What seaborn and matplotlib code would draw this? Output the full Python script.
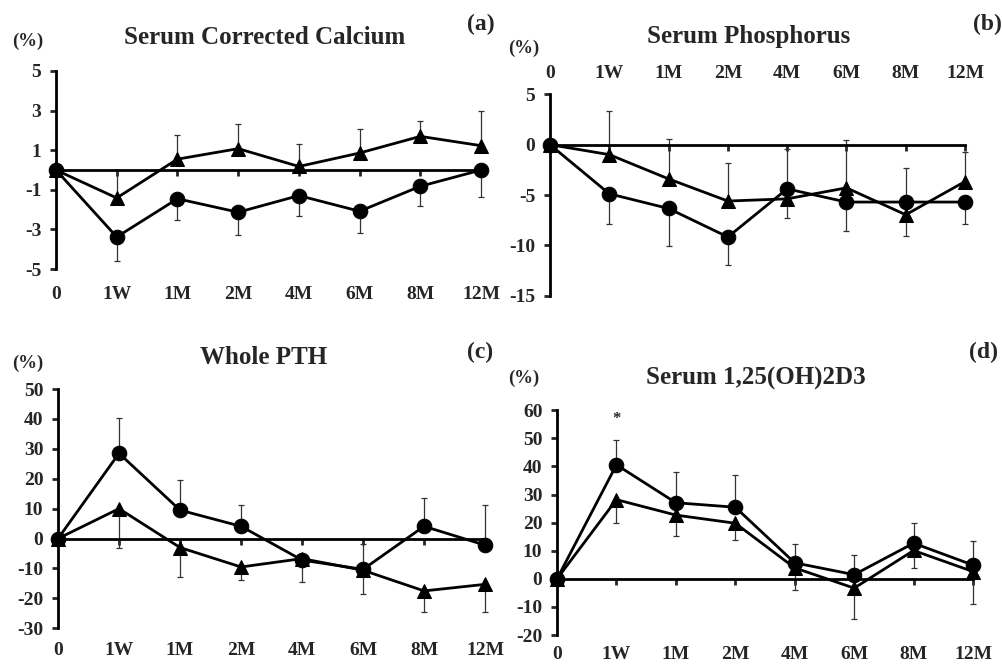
import numpy as np
import pandas as pd
import matplotlib
matplotlib.use('Agg')
import matplotlib.pyplot as plt
import seaborn as sns

# time points
time_labels = ['0', '1W', '1M', '2M', '4M', '6M', '8M', '12M']

# (a) serum corrected calcium
ca_circle = [0, -3.38, -1.45, -2.13, -1.29, -2.08, -0.82, 0.0]
ca_circle_err = [0, 1.19, 1.05, 1.15, 1.01, 1.10, 1.00, 1.36]
ca_triangle = [0, -1.41, 0.55, 1.08, 0.18, 0.86, 1.70, 1.23]
ca_triangle_err = [0, 1.41, 1.23, 1.24, 1.13, 1.21, 0.80, 1.77]

# (b) serum phosphorus
p_circle = [0, -4.88, -6.34, -9.17, -4.39, -5.7, -5.7, -5.7]
p_circle_err = [0, 3.04, 3.76, 2.81, 2.91, 2.9, 3.4, 2.22]
p_triangle = [0, -0.99, -3.4, -5.6, -5.38, -4.29, -6.96, -3.66]
p_triangle_err = [0, 4.36, 3.96, 3.75, 4.95, 4.75, 4.62, 2.9]

# (c) whole PTH
pth_circle = [0, 28.5, 9.5, 4.1, -7.2, -10.3, 4.1, -2.2]
pth_circle_err = [0, 11.8, 10.0, 7.0, 1.0, 8.4, 9.6, 13.3]
pth_triangle = [0, 10.0, -3.0, -9.5, -6.7, -10.6, -17.5, -15.3]
pth_triangle_err = [0, 13.2, 9.7, 4.4, 7.8, 7.8, 6.9, 9.4]

# (d) serum 1,25(OH)2D3
vd_circle = [0, 40.6, 27.1, 25.5, 5.7, 1.5, 12.7, 4.9]
vd_circle_err = [0, 8.9, 10.8, 11.5, 6.6, 7.0, 7.1, 8.6]
vd_triangle = [0, 28.2, 22.7, 19.8, 3.9, -3.3, 10.1, 2.6]
vd_triangle_err = [0, 8.4, 7.6, 5.9, 7.8, 10.9, 6.3, 11.5]

sns.set_style('ticks')
plt.rcParams['font.family'] = ['Liberation Serif', 'DejaVu Serif']
plt.rcParams['font.weight'] = 'bold'
plt.rcParams['axes.unicode_minus'] = False

fig = plt.figure(figsize=(10.02, 6.66), dpi=100)


def draw_panel(rect, circle, circle_err, triangle, triangle_err, circle_up, yticks,
               labels_top=False, label_pad=9):
    ax = fig.add_axes(rect)
    x = np.arange(len(time_labels))
    zeros = np.zeros(len(x))

    # one-sided error bars
    c_err = [zeros, circle_err] if circle_up else [circle_err, zeros]
    t_err = [triangle_err, zeros] if circle_up else [zeros, triangle_err]
    for vals, err in [(circle, c_err), (triangle, t_err)]:
        ax.errorbar(x, vals, yerr=err, fmt='none', ecolor='#333333', elinewidth=0.9,
                    capsize=2.5, capthick=0.9, zorder=2, clip_on=False)

    df = pd.DataFrame({
        'x': np.concatenate([x, x]),
        'value': circle + triangle,
        'group': ['circle'] * len(x) + ['triangle'] * len(x),
    })
    sns.lineplot(data=df, x='x', y='value', style='group',
                 markers={'circle': 'o', 'triangle': '^'}, dashes=False,
                 color='black', markersize=10.5, markeredgecolor='black',
                 linewidth=2, legend=False, ax=ax, clip_on=False, zorder=3)

    ax.set_xlim(0, 7)
    ax.set_ylim(yticks[0], yticks[-1])
    ax.set_yticks(yticks)
    ax.set_xticks(x)
    ax.set_xlabel('')
    ax.set_ylabel('')
    ax.spines['bottom'].set_position(('data', 0))
    ax.spines['top'].set_visible(False)
    ax.spines['right'].set_visible(False)
    for s in ['bottom', 'left']:
        ax.spines[s].set_linewidth(2)
        ax.spines[s].set_color('black')
    ax.tick_params(axis='x', labelbottom=False, direction='out', length=4, width=2)
    ax.tick_params(axis='y', direction='out', length=4.5, width=2, labelsize=14, pad=6)

    sec = ax.secondary_xaxis('top' if labels_top else 'bottom')
    sec.set_xticks(x, labels=time_labels)
    sec.tick_params(length=0, pad=label_pad, labelsize=14)
    for s in sec.spines.values():
        s.set_visible(False)
    return ax


ax_a = draw_panel([0.0559, 0.596, 0.4242, 0.2974], ca_circle, ca_circle_err,
                  ca_triangle, ca_triangle_err, False, [-5, -3, -1, 1, 3, 5], label_pad=12)
ax_b = draw_panel([0.5489, 0.556, 0.4142, 0.3024], p_circle, p_circle_err,
                  p_triangle, p_triangle_err, False, [-15, -10, -5, 0, 5], labels_top=True)
ax_c = draw_panel([0.0579, 0.0566, 0.4262, 0.3593], pth_circle, pth_circle_err,
                  pth_triangle, pth_triangle_err, True, [-30, -20, -10, 0, 10, 20, 30, 40, 50],
                  label_pad=10)
ax_d = draw_panel([0.5559, 0.0465, 0.4152, 0.3374], vd_circle, vd_circle_err,
                  vd_triangle, vd_triangle_err, True, [-20, -10, 0, 10, 20, 30, 40, 50, 60],
                  label_pad=8)

ax_d.text(1, 57, '*', ha='center', va='center', fontsize=12)


def fig_text(px, py, s, size):
    fig.text(px / 1002, 1 - py / 666, s, ha='center', va='center', fontsize=size, fontweight='bold')


fig_text(265, 38, 'Serum Corrected Calcium', 18)
fig_text(749, 36, 'Serum Phosphorus', 18)
fig_text(264, 357, 'Whole PTH', 18)
fig_text(756, 378, 'Serum 1,25(OH)2D3', 18)
for px, py in [(28, 41), (524, 48), (28, 363), (524, 378)]:
    fig_text(px, py, '(%)', 13.5)
fig_text(481, 24, '(a)', 17)
fig_text(987, 24, '(b)', 17)
fig_text(480, 352, '(c)', 17)
fig_text(983, 352, '(d)', 17)

fig.savefig('out.png', dpi=100)
